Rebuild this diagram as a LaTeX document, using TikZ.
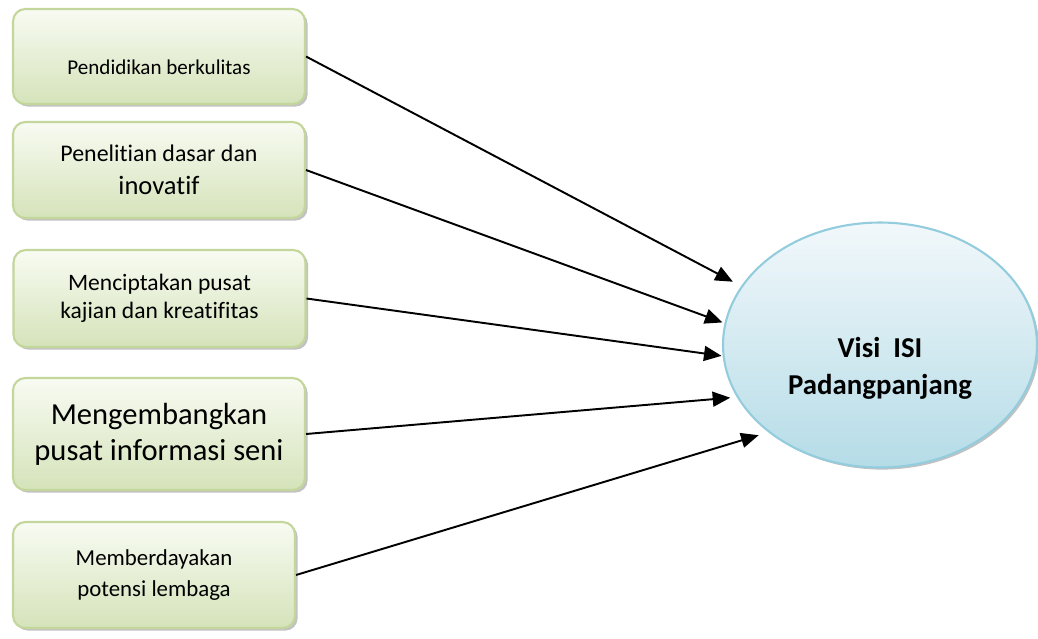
\documentclass[tikz,border=0pt]{standalone}
\usepackage{fontspec}
\setmainfont{Carlito}[Ligatures={NoCommon,NoRare}]
\usepackage{tikz}
\usetikzlibrary{shapes.geometric,shadows,arrows.meta}
\usepackage{xcolor}
\definecolor{kotakgaris}{HTML}{C3D69B}
\definecolor{kotakatas}{HTML}{F8FBF2}
\definecolor{kotakbawah}{HTML}{D5E3BA}
\definecolor{elipsgaris}{HTML}{93CDDD}
\definecolor{elipsatas}{HTML}{F2F8FB}
\definecolor{elipsbawah}{HTML}{B5DCE7}
\tikzset{
	kotak/.style={rectangle,rounded corners=7pt,draw=kotakgaris,line width=1.2pt,
		top color=kotakatas,bottom color=kotakbawah,minimum width=5.84cm,align=center,
		drop shadow={shadow xshift=1.5pt,shadow yshift=-1.5pt,opacity=0.4,fill=black!60}},
	elips/.style={ellipse,draw=elipsgaris,line width=1.2pt,top color=elipsatas,
		bottom color=elipsbawah,minimum width=6.28cm,minimum height=4.9cm,
		drop shadow={shadow xshift=1.2pt,shadow yshift=-1.2pt,opacity=0.4,fill=black!60}},
	panah/.style={-{Triangle[length=10pt,width=8.5pt]},line width=1.1pt}
}
\begin{document}
\begin{tikzpicture}[x=0.02cm,y=-0.02cm]
			\useasboundingbox (0,0) rectangle (1038,639);
			\coordinate (k1) at (159,56.5);
			\coordinate (k2) at (159,170);
			\coordinate (k3) at (159.5,298.5);
			\coordinate (k4) at (159,434);
			\coordinate (k5) at (154,575);
			\coordinate (v) at (880,345);
			\node[kotak,minimum height=1.9cm,font=\fontsize{12}{14}\selectfont,text height=21pt,text depth=0pt] (p1) at (k1) {Pendidikan berkulitas};
			\node[kotak,minimum height=1.92cm,font=\fontsize{13.6}{18.7}\selectfont] (p2) at (k2) {Penelitian dasar dan\\{\fontsize{15.1}{18.7}\selectfont inovatif}};
			\node[kotak,minimum height=1.94cm,font=\fontsize{13.4}{15.9}\selectfont] (p3) at (k3) {Menciptakan pusat\\kajian dan kreatifitas};
			\node[kotak,minimum height=2.24cm,font=\fontsize{17.4}{20.4}\selectfont] (p4) at (k4) {Mengembangkan\\pusat informasi seni};
			\node[kotak,minimum width=5.64cm,minimum height=2.12cm,font=\fontsize{13}{18.1}\selectfont] (p5) at (k5) {Memberdayakan\\potensi lembaga};
			\node[elips] (visi) at (v) {};
			\node[font=\bfseries\fontsize{16.4}{21}\selectfont,align=center] (judul) at (880,368) {Visi\ \ ISI\\Padangpanjang};
			\foreach \asal/\sudut/\potong in {p1/157.5/5.3pt,p2/172.4/1.2pt,p3/184.7/0.6pt,p4/200.9/3.7pt,p5/218.8/5.7pt}
				\draw[panah,shorten >=\potong] (\asal.east) -- (visi.\sudut);
		\end{tikzpicture}
\end{document}
